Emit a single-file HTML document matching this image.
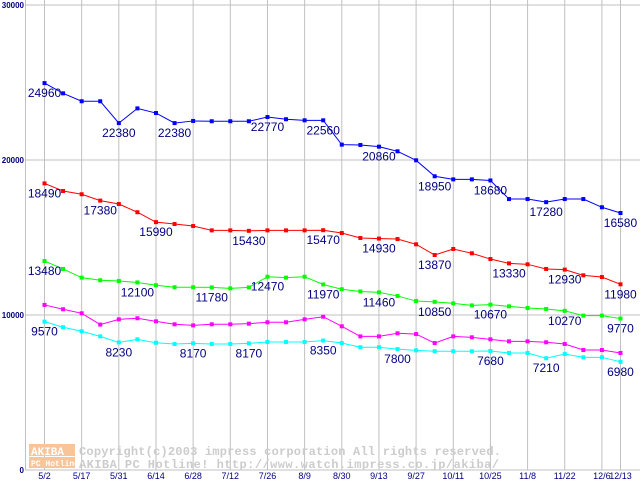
<!DOCTYPE html>
<html><head><meta charset="utf-8"><style>
html,body{margin:0;padding:0;background:#fff;width:640px;height:480px;overflow:hidden}
svg text{font-family:"Liberation Sans",sans-serif}
</style></head><body>
<svg id="chart" width="640" height="480" viewBox="0 0 640 480" xmlns="http://www.w3.org/2000/svg">
<g id="grid"></g>
<g>
<rect x="29" y="444" width="46" height="12" fill="#f8c49a"/>
<text x="31" y="455" font-size="11" font-weight="bold" fill="#fff" style="font-family:'Liberation Mono',monospace">AKIBA</text>
<rect x="29" y="457" width="46" height="11" fill="#f8c49a"/>
<text x="31" y="466" font-size="8" font-weight="bold" fill="#fff" style="font-family:'Liberation Mono',monospace">PC Hotline</text>
<text x="79" y="455" font-size="12" font-weight="bold" fill="#cccccc" style="font-family:'Liberation Mono',monospace" textLength="422">Copyright(c)2003 impress corporation All rights reserved.</text>
<text x="79" y="468" font-size="12" font-weight="bold" fill="#cccccc" style="font-family:'Liberation Mono',monospace" textLength="420">AKIBA PC Hotline!  http://www.watch.impress.co.jp/akiba/</text>
</g>
<g id="series"></g>
</svg>
<script>
const categories = ["5/2","","5/17","","5/31","","6/14","","6/28","","7/12","","7/26","","8/9","","8/30","","9/13","","9/27","","10/11","","10/25","","11/8","","11/22","","12/6","12/13"];
const yTicks = [0,10000,20000,30000];
const blueValues = [24960,24300,23790,23790,22380,23330,23030,22380,22520,22500,22500,22500,22770,22630,22560,22560,20990,20970,20860,20560,19980,18950,18750,18750,18680,17480,17480,17280,17480,17480,16950,16580];
const redValues = [18490,18000,17790,17380,17160,16630,15990,15870,15740,15460,15460,15430,15460,15460,15460,15470,15290,14970,14930,14900,14560,13870,14260,13980,13610,13330,13270,12970,12930,12560,12450,11980];
const greenValues = [13480,12970,12410,12240,12190,12100,11920,11790,11790,11780,11720,11780,12470,12410,12470,11970,11660,11520,11460,11230,10900,10850,10750,10620,10670,10560,10450,10390,10270,9960,9960,9770];
const magentaValues = [10650,10370,10110,9380,9720,9790,9590,9400,9330,9400,9400,9440,9530,9530,9720,9890,9270,8620,8620,8820,8770,8190,8620,8560,8430,8300,8300,8240,8130,7740,7740,7550];
const cyanValues = [9570,9210,8950,8620,8230,8430,8210,8130,8170,8130,8130,8170,8260,8260,8260,8350,8190,7920,7920,7800,7720,7660,7660,7660,7680,7550,7550,7210,7480,7270,7270,6980];
const blueLabels = [0,4,7,12,15,18,21,24,27,31];
const redLabels = [0,3,6,11,15,18,21,25,28,31];
const greenLabels = [0,5,9,12,15,18,21,24,28,31];
const magentaLabels = [];
const cyanLabels = [0,4,8,11,15,19,24,27,31];

const NS="http://www.w3.org/2000/svg";
const X0=44.5, DX=18.58, Y0=470, YMAX=30000, YH=465;
function xScale(i){return X0+i*DX;}
function yScale(v){return Y0-v/YMAX*YH;}
function mk(tag,attrs,parent){const e=document.createElementNS(NS,tag);for(const k in attrs)e.setAttribute(k,attrs[k]);parent.appendChild(e);return e;}
const grid=document.getElementById('grid');
categories.forEach((c,i)=>{
  if(c==="")return;
  const l=mk('line',{x1:xScale(i),x2:xScale(i),y1:0,y2:Y0,stroke:'#c0c0c0','stroke-width':1},grid);
  
  
  const t=mk('text',{x:xScale(i),y:479,'font-size':9,'text-anchor':'middle',fill:'#000080'},grid);
  
  
  t.textContent=c;
});
yTicks.forEach(v=>{
  const l=mk('line',{x1:25,x2:640,y1:yScale(v),y2:yScale(v),stroke:'#c0c0c0','stroke-width':1},grid);
  
  
  const t=mk('text',{x:24,y:Math.max(yScale(v)+3,8),'font-size':8,'font-weight':'bold','text-anchor':'end',fill:'#000080'},grid);
  
  
  t.textContent=String(v);
});
const ax=mk('line',{x1:25.5,x2:25.5,y1:0,y2:Y0,stroke:'#c0c0c0','stroke-width':1},grid);


const sg=document.getElementById('series');
function drawSeries(vals,color,labels,name){
  const g=mk('g',{},sg);
  
  
  const pts=vals.map((v,i)=>xScale(i)+','+yScale(v)).join(' ');
  const pl=mk('polyline',{points:pts,fill:'none',stroke:color,'stroke-width':1},g);
  
  
  vals.forEach((v,i)=>{
    const r=mk('rect',{x:xScale(i)-2,y:yScale(v)-2,width:4,height:4,fill:color},g);
    
    
  });
  labels.forEach(i=>{
    const t=mk('text',{x:xScale(i),y:yScale(vals[i])+14,'font-size':12,'text-anchor':'middle',fill:'#000080'},g);
    
    
    t.textContent=String(vals[i]);
  });
}
drawSeries(blueValues,'#0000ff',blueLabels,'blue');
drawSeries(redValues,'#ff0000',redLabels,'red');
drawSeries(greenValues,'#00ff00',greenLabels,'green');
drawSeries(magentaValues,'#ff00ff',magentaLabels,'magenta');
drawSeries(cyanValues,'#00ffff',cyanLabels,'cyan');
</script>
</body></html>
